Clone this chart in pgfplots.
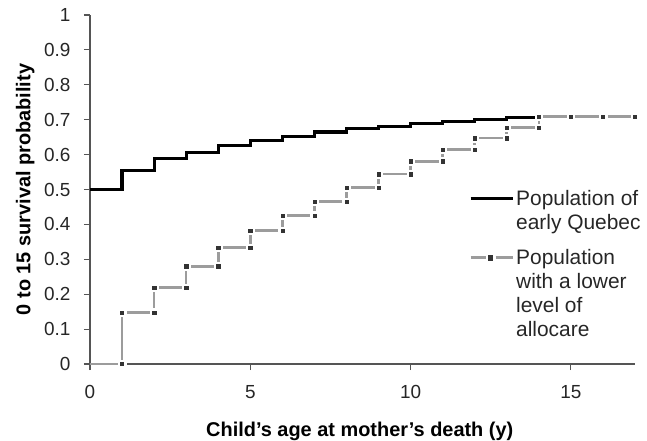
\documentclass[border=0pt]{standalone}
\usepackage{pgfplots}
\pgfplotsset{compat=1.18}
\usepackage{fontspec}
\setmainfont{Liberation Sans}
\definecolor{mygray}{HTML}{9C9C9C}
\definecolor{axgray}{HTML}{555555}
\begin{document}
\begin{tikzpicture}
\begin{axis}[
  scale only axis,
  width=545bp, height=349bp,
  xmin=0, xmax=17, ymin=0, ymax=1,
  axis x line*=bottom, axis y line*=left,
  axis line style={axgray, line width=1.4bp, -},
  every tick/.style={axgray, line width=1.2bp},
  tick align=outside,
  major tick length=6bp,
  xtick={0,5,10,15},
  ytick={0,0.1,0.2,0.3,0.4,0.5,0.6,0.7,0.8,0.9,1},
  /pgf/number format/assume math mode=true,
  yticklabel style={/pgf/number format/fixed, /pgf/number format/precision=1, xshift=-10bp},
  xticklabel style={yshift=-12bp},
  tick label style={font=\fontsize{19}{22}\selectfont, text=black!85},
  xlabel={Child's age at mother's death (y)},
  ylabel={0 to 15 survival probability},
  label style={font=\fontsize{20}{24}\selectfont\bfseries},
  xlabel style={at={(axis description cs:0.495,-0.209)}, anchor=base},
  ylabel style={at={(axis description cs:-0.119,0.5)}, anchor=center},
  clip=false,
  reverse legend,
  legend cell align=left,
  legend style={at={(axis description cs:0.695,0.505)}, anchor=north west,
    draw=none, fill=none, inner sep=0pt, row sep=15bp,
    font=\fontsize{21}{24}\selectfont, text=black!85,
    cells={align=left}, nodes={inner sep=2bp}},
]
% population with a lower level of allocare
\addplot[mygray, line width=2.6bp,
  legend image code/.code={
    \draw[mygray, line width=2.6bp] (0bp,36bp) -- (15bp,36bp);
    \draw[mygray, line width=2.6bp] (25bp,36bp) -- (42bp,36bp);
    \fill[black!80] (18.4bp,34.4bp) rectangle (21.6bp,37.6bp);
  }] coordinates {
(0,0) (1,0) (1,0.148) (2,0.148) (2,0.219) (3,0.219) (3,0.280) (4,0.280)
(4,0.333) (5,0.333) (5,0.382) (6,0.382) (6,0.426) (7,0.426) (7,0.465) (8,0.465)
(8,0.505) (9,0.505) (9,0.544) (10,0.544) (10,0.581) (11,0.581) (11,0.615) (12,0.615)
(12,0.647) (13,0.647) (13,0.677) (14,0.677) (14,0.709) (15,0.709) (16,0.709) (17,0.709)
};
\addlegendentry{Population\\with a lower\\level of\\allocare}
\addplot[only marks, mark=square*, mark size=3.8bp, white, forget plot] coordinates {
(1,0) (1,0.148) (2,0.148) (2,0.219) (3,0.219) (3,0.280) (4,0.280)
(4,0.333) (5,0.333) (5,0.382) (6,0.382) (6,0.426) (7,0.426) (7,0.465) (8,0.465)
(8,0.505) (9,0.505) (9,0.544) (10,0.544) (10,0.581) (11,0.581) (11,0.615) (12,0.615)
(12,0.647) (13,0.647) (13,0.677) (14,0.677) (14,0.709) (15,0.709) (16,0.709) (17,0.709)
};
\addplot[only marks, mark=square*, mark size=1.6bp, black!80, forget plot] coordinates {
(1,0) (1,0.148) (2,0.148) (2,0.219) (3,0.219) (3,0.280) (4,0.280)
(4,0.333) (5,0.333) (5,0.382) (6,0.382) (6,0.426) (7,0.426) (7,0.465) (8,0.465)
(8,0.505) (9,0.505) (9,0.544) (10,0.544) (10,0.581) (11,0.581) (11,0.615) (12,0.615)
(12,0.647) (13,0.647) (13,0.677) (14,0.677) (14,0.709) (15,0.709) (16,0.709) (17,0.709)
};
% population of early Quebec
\addplot[black, line width=3.2bp, const plot mark left,
  legend image code/.code={\draw[black, line width=3.2bp] (0bp,12bp) -- (42bp,12bp);}] coordinates {
(0,0.500) (1,0.555) (2,0.588) (3,0.606) (4,0.625) (5,0.641) (6,0.652) (7,0.665)
(8,0.674) (9,0.680) (10,0.688) (11,0.695) (12,0.701) (13,0.706) (14,0.706)
};
\addlegendentry{Population of\\early Quebec}
\end{axis}
\pgfresetboundingbox
\path[use as bounding box] (-90bp,-77bp) rectangle (557bp,364bp);
\end{tikzpicture}
\end{document}
